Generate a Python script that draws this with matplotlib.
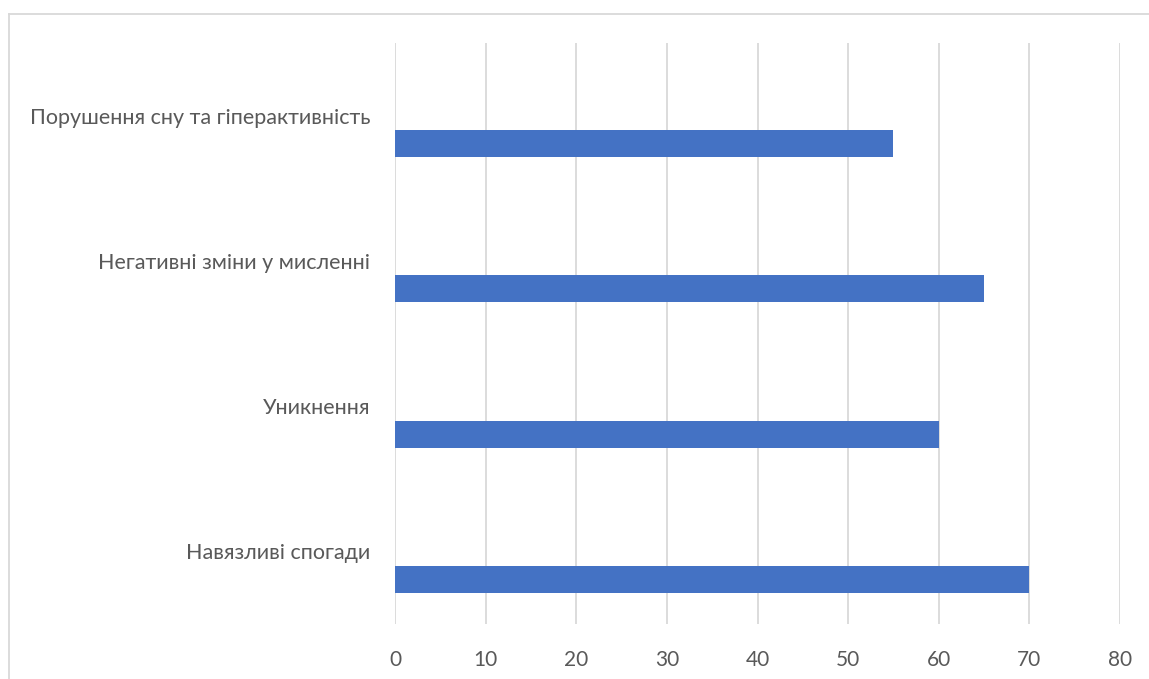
import matplotlib.pyplot as plt
from matplotlib.lines import Line2D

# Симптоми ПТСР (знизу вгору, як на осі)
categories = ['Навязливі спогади', 'Уникнення', 'Негативні зміни у мисленні',
              'Порушення сну та гіперактивність']
values = [70, 60, 65, 55]
x_ticks = [0, 10, 20, 30, 40, 50, 60, 70, 80]

plt.rcParams['font.family'] = ['Lato', 'DejaVu Sans']

W, H = 1149, 679
fig = plt.figure(figsize=(W / 100, H / 100), dpi=100)
ax = fig.add_axes([395 / W, 1 - 624 / H, (1120 - 395) / W, (624 - 43) / H])

pos = list(range(len(categories)))
# стовпчики трохи нижче підпису категорії
ax.barh([p - 0.192 for p in pos], values, height=0.186, color='#4472C4', zorder=3)

ax.set_xlim(0, 80)
ax.set_ylim(-0.5, len(categories) - 0.5)
ax.set_xticks(x_ticks)
ax.set_yticks(pos)
ax.set_yticklabels(categories)
ax.tick_params(axis='both', length=0, labelcolor='#595959')
ax.tick_params(axis='y', pad=18, labelsize=15.5)
ax.tick_params(axis='x', pad=19, labelsize=15)
ax.grid(axis='x', color='#d9d9d9', linewidth=1.3, zorder=0)
for s in ax.spines.values():
    s.set_visible(False)

# рамка області діаграми
fig.add_artist(Line2D([9 / W, 9 / W], [0, 1 - 14 / H], color='#d9d9d9', lw=1.3,
                      transform=fig.transFigure))
fig.add_artist(Line2D([9 / W, 1], [1 - 14 / H, 1 - 14 / H], color='#d9d9d9', lw=1.3,
                      transform=fig.transFigure))

fig.savefig('out.png', dpi=100, facecolor='white')
